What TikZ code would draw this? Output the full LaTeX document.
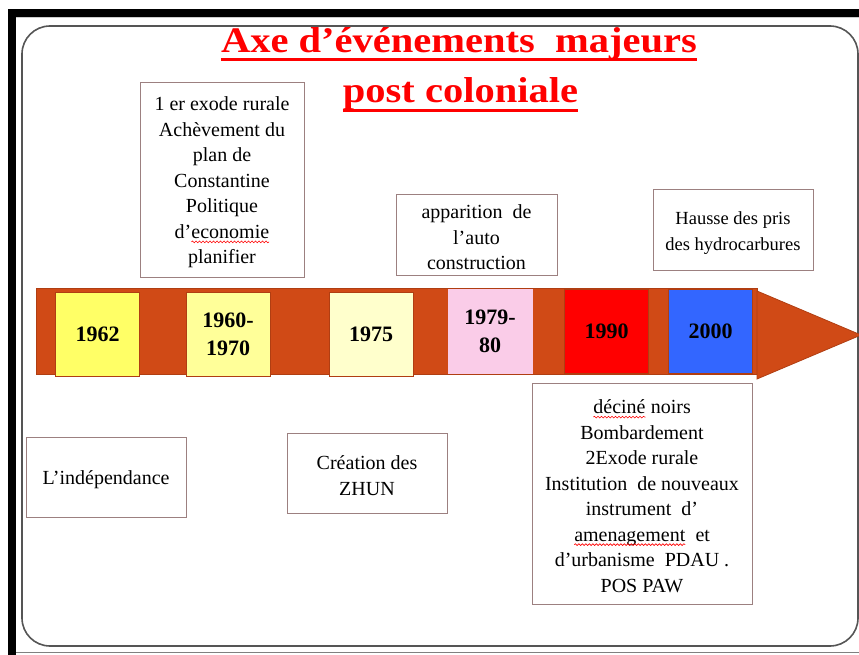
\documentclass[tikz,border=0pt]{standalone}
\usepackage{fontspec}
\setmainfont{Liberation Serif}
\newfontfamily\titlefont[FakeStretch=1.125]{Liberation Serif}
\usetikzlibrary{arrows,decorations.pathmorphing}

\definecolor{barorange}{HTML}{D04A16}
\definecolor{barline}{HTML}{B03E12}
\definecolor{boxline}{HTML}{9C8080}
\definecolor{yelA}{HTML}{FFFF66}
\definecolor{yelB}{HTML}{FFFF99}
\definecolor{yelC}{HTML}{FFFFCC}
\definecolor{pinkbox}{HTML}{FACCE8}
\definecolor{bluebox}{HTML}{3366FF}
\definecolor{framegray}{HTML}{555555}

% red spell-check wave under a word
\newcommand\spellwave[1]{\tikz[baseline=(w.base), x=1pt, y=1pt]{%
  \node[draw=none, fill=none, inner sep=0pt, outer sep=0pt, minimum width=0pt,
    minimum height=0pt, anchor=base] (w) at (0,0) {#1};
  \draw[red, line width=0.6pt, decorate, decoration={snake, amplitude=0.9pt, segment length=3.5pt}]
    ([yshift=-3.5pt]w.base west) -- ([yshift=-3.5pt]w.base east);}}
% taller first line, pushes the text a little down in its box
\newcommand\firstline{\rule{0pt}{19pt}}

\tikzset{
  titletext/.style={text=red, inner sep=0pt, font=\titlefont\bfseries\fontsize{36}{42}\selectfont},
  evbox/.style={draw=boxline, fill=white, line width=1pt, align=center, inner sep=0pt,
    font=\fontsize{20}{25.5}\selectfont},
  yearbox/.style={line width=0.8pt, align=center, inner sep=0pt,
    minimum width=84pt, minimum height=84pt, font=\bfseries\fontsize{22}{28}\selectfont},
}

\begin{document}
\begin{tikzpicture}[x=1pt,y=-1pt]
  \useasboundingbox (0,0) rectangle (859,655);
  % frame
  \fill[black] (8,9) rectangle (859,17);
  \fill[black] (8,9) rectangle (16,655);
  \draw[gray!40, line width=1pt] (16,18) -- (859,18);
  \draw[gray, line width=1.5pt] (16,652.5) -- (859,652.5);
  \draw[framegray, line width=1.6pt, rounded corners=28pt] (22,26) rectangle (858,646);

  % title
  \node[titletext, anchor=base] (ttlA) at (459,52.5) {Axe d’événements\ \ majeurs};
  \node[titletext, anchor=base] (ttlB) at (460.5,103) {post coloniale};
  \draw[red, line width=3pt] ([yshift=-7pt]ttlA.base west) -- ([yshift=-7pt]ttlA.base east);
  \draw[red, line width=3pt] ([yshift=-8pt]ttlB.base west) -- ([yshift=-8pt]ttlB.base east);

  % time axis
  \draw[barline, fill=barorange, line width=0.8pt] (36,288) rectangle (757,374);
  \draw[barline, fill=barorange, line width=0.8pt] (757,291) -- (861,335) -- (757,379) -- cycle;

  \foreach \x/\y/\col/\ln/\nm/\lab in {97.5/334/yelA/barline/yrA/1962,
      228/334/yelB/barline/yrB/{1960-\\1970},
      371/334/yelC/barline/yrC/1975,
      490/331.5/pinkbox/pinkbox/yrD/{1979-\\80},
      606.5/331.5/red/barline/yrE/1990,
      710.5/331.5/bluebox/barline/yrF/2000} {
    \node[yearbox, fill=\col, draw=\ln] (\nm) at (\x,\y) {\lab};
  }

  % events above the axis
  \node[evbox, minimum width=164pt, minimum height=194pt] (exode) at (222,180)
    {\firstline 1 er exode rurale\\Achèvement\ du\\plan\ de\\Constantine\\Politique\\d’\spellwave{economie}\\planifier};
  \node[evbox, minimum width=161pt, minimum height=80pt] (auto) at (476.5,235)
    {\firstline apparition\ \ de\\l’auto\\construction};
  \node[evbox, minimum width=160pt, minimum height=80pt,
    font=\fontsize{18.5}{26}\selectfont] (hydro) at (733,230)
    {\firstline Hausse des pris\\des hydrocarbures};

  % events below the axis
  \node[evbox, minimum width=160pt, minimum height=80pt] (indep) at (106,477)
    {\firstline L’indépendance};
  \node[evbox, minimum width=160pt, minimum height=80pt] (zhun) at (367,473)
    {\firstline Création des\\ZHUN};
  \node[evbox, minimum width=220pt, minimum height=221pt] (pdau) at (642,493.5)
    {\firstline\spellwave{déciné}\ noirs\\Bombardement\\2Exode\ rurale\\Institution\ \ de nouveaux\\instrument\ \ d’\\\spellwave{amenagement}\ \ et\\d’urbanisme\ \ PDAU .\\POS PAW};
\end{tikzpicture}
\end{document}
